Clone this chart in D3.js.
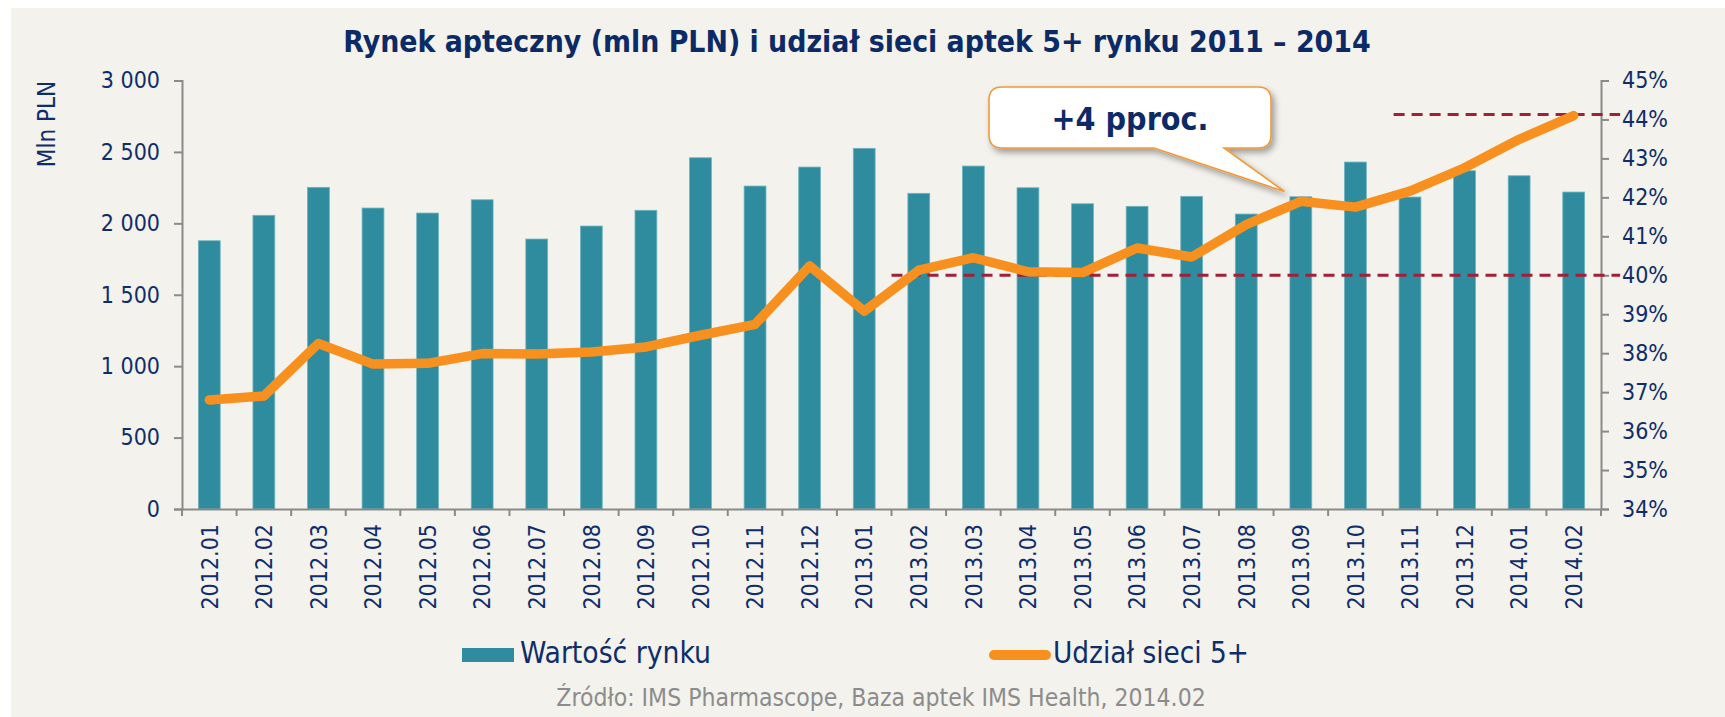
<!DOCTYPE html>
<html lang="pl">
<head>
  <meta charset="UTF-8" />
  <title>Rynek apteczny</title>
  <style>
    html, body { margin: 0; padding: 0; background: #ffffff; }
    svg { display: block; }
    text { font-family: "DejaVu Sans Condensed", "DejaVu Sans", sans-serif; font-stretch: condensed; }
  </style>
</head>
<body>
  <script src="https://d3js.org/d3.v7.min.js"></script>
  <script>
    // --- data ---
    const months = ["2012.01", "2012.02", "2012.03", "2012.04", "2012.05", "2012.06", "2012.07", "2012.08",
      "2012.09", "2012.10", "2012.11", "2012.12", "2013.01", "2013.02", "2013.03", "2013.04", "2013.05",
      "2013.06", "2013.07", "2013.08", "2013.09", "2013.10", "2013.11", "2013.12", "2014.01", "2014.02"];
    const marketValue = [1878, 2056, 2252, 2107, 2072, 2165, 1890, 1981, 2091, 2459, 2261, 2394, 2525,
      2210, 2401, 2249, 2137, 2119, 2189, 2065, 2186, 2429, 2184, 2368, 2333, 2219];
    const chainShare = [36.8, 36.9, 38.25, 37.72, 37.74, 37.99, 37.98, 38.03, 38.16, 38.46, 38.74, 40.24,
      39.08, 40.13, 40.45, 40.09, 40.07, 40.7, 40.47, 41.3, 41.9, 41.75, 42.16, 42.76, 43.49, 44.1];
    const leftTicks = [0, 500, 1000, 1500, 2000, 2500, 3000];
    const rightTicks = [34, 35, 36, 37, 38, 39, 40, 41, 42, 43, 44, 45];
    // reference lines: level in %, start / end in category-index units
    const refLines = [{ v: 40, from: 13, to: 26.35 }, { v: 44.13, from: 22.2, to: 26.35 }];

    const W = 1725, H = 717;
    const navy = "#0f2d6b", teal = "#2e8c9e", orange = "#f7901e", darkRed = "#a21f38";
    const m = { left: 182, right: 1601, top: 80.5, bottom: 509 };

    const svg = d3.select("body").append("svg").attr("width", W).attr("height", H);

    const defs = svg.append("defs");
    const f = defs.append("filter").attr("id", "shadow").attr("x", "-20%").attr("y", "-20%").attr("width", "140%").attr("height", "160%");
    f.append("feDropShadow").attr("dx", 3).attr("dy", 4).attr("stdDeviation", 3)
      .attr("flood-color", "#000").attr("flood-opacity", 0.35);

    svg.append("rect").attr("x", 11).attr("y", 8).attr("width", W - 11).attr("height", H - 8).attr("fill", "#f3f2ec");

    const x = d3.scaleBand().domain(months).range([m.left, m.right]).padding(0);
    const xi = d3.scaleLinear().domain([0, months.length]).range([m.left, m.right]);
    const yL = d3.scaleLinear().domain([0, 3000]).range([m.bottom, m.top]);
    const yR = d3.scaleLinear().domain([34, 45]).range([m.bottom, m.top]);

    const fmt = d => d3.format(",")(d).replace(",", " ");

    function fit(sel, w) {
      const len = sel.node().getComputedTextLength();
      const fs = parseFloat(sel.attr("font-size"));
      sel.attr("font-size", fs * w / len);
    }

    // title
    const title = svg.append("text")
      .attr("x", 857).attr("y", 51.5).attr("text-anchor", "middle")
      .attr("font-size", 26).attr("font-weight", "bold").attr("fill", "#0b2a66")
      .text("Rynek apteczny (mln PLN) i udział sieci aptek 5+ rynku 2011 – 2014");
    fit(title, 1028);

    // bars
    const bw = x.step() * 0.4;
    svg.append("g").selectAll("rect").data(marketValue).join("rect")
      .attr("x", (d, i) => x(months[i]) + (x.step() - bw) / 2)
      .attr("y", d => yL(d))
      .attr("width", bw)
      .attr("height", d => yL(0) - yL(d))
      .attr("fill", teal)
      .attr("stroke", "#6fb3c0").attr("stroke-width", 0.8);

    // axes
    const axisColor = "#8a8a8a";
    const gL = svg.append("g").attr("transform", `translate(${m.left},0)`)
      .call(d3.axisLeft(yL).tickValues(leftTicks).tickFormat(fmt).tickSize(8).tickPadding(14));
    const gR = svg.append("g").attr("transform", `translate(${m.right},0)`)
      .call(d3.axisRight(yR).tickValues(rightTicks).tickFormat(d => d + "%").tickSize(8).tickPadding(13));
    const gX = svg.append("g").attr("transform", `translate(0,${m.bottom})`)
      .call(d3.axisBottom(x).tickSize(0).tickPadding(0));
    gX.selectAll(".tick text")
      .attr("transform", "rotate(-90)")
      .attr("text-anchor", "end")
      .attr("x", -15).attr("y", 0).attr("dy", "0.36em");
    svg.append("g").selectAll("line").data(d3.range(months.length + 1)).join("line")
      .attr("x1", d => xi(d)).attr("x2", d => xi(d))
      .attr("y1", m.bottom).attr("y2", m.bottom + 7)
      .attr("stroke", axisColor).attr("stroke-width", 2);

    [gL, gR, gX].forEach(g => {
      g.select(".domain").attr("stroke", axisColor).attr("stroke-width", 2);
      g.selectAll(".tick line").attr("stroke", axisColor).attr("stroke-width", 2);
      g.selectAll(".tick text").attr("fill", navy).attr("font-size", 23)
        .style("font-family", "'DejaVu Sans Condensed', 'DejaVu Sans', sans-serif");
    });

    svg.append("text")
      .attr("transform", `translate(46,124) rotate(-90)`)
      .attr("text-anchor", "middle").attr("dy", "0.36em")
      .attr("font-size", 24).attr("fill", navy).text("Mln PLN");

    // reference dashed lines
    svg.append("g").selectAll("line").data(refLines).join("line")
      .attr("x1", d => xi(d.from)).attr("x2", d => xi(d.to))
      .attr("y1", d => yR(d.v)).attr("y2", d => yR(d.v))
      .attr("stroke", darkRed).attr("stroke-width", 3).attr("stroke-dasharray", "11,7");

    // share line
    const line = d3.line()
      .x((d, i) => x(months[i]) + x.step() / 2)
      .y(d => yR(d));
    svg.append("path").datum(chainShare)
      .attr("d", line)
      .attr("fill", "none").attr("stroke", orange).attr("stroke-width", 9.5)
      .attr("stroke-linejoin", "round").attr("stroke-linecap", "round");

    // callout
    const tipX = xi(20.2), tipY = yR(42.15);
    const bx0 = 989, bx1 = 1271, by0 = 87, by1 = 148, r = 13;
    const callPath = `M${bx0 + r},${by0} H${bx1 - r} Q${bx1},${by0} ${bx1},${by0 + r} V${by1 - r} Q${bx1},${by1} ${bx1 - r},${by1}`
      + ` H1224 L${tipX},${tipY} L1154,${by1} H${bx0 + r} Q${bx0},${by1} ${bx0},${by1 - r} V${by0 + r} Q${bx0},${by0} ${bx0 + r},${by0} Z`;
    svg.append("path").attr("d", callPath)
      .attr("fill", "#ffffff").attr("stroke", "#f29a3a").attr("stroke-width", 1.6)
      .attr("filter", "url(#shadow)");
    const callText = svg.append("text")
      .attr("x", 1130).attr("y", 130).attr("text-anchor", "middle")
      .attr("font-size", 32).attr("font-weight", "bold").attr("fill", "#0b2a66")
      .text("+4 pproc.");
    fit(callText, 157);

    // legend
    svg.append("rect").attr("x", 462).attr("y", 648).attr("width", 52).attr("height", 14).attr("fill", teal);
    const l1 = svg.append("text").attr("x", 520).attr("y", 663)
      .attr("font-size", 24).attr("fill", navy).text("Wartość rynku");
    fit(l1, 191);
    svg.append("line").attr("x1", 994).attr("x2", 1046).attr("y1", 655).attr("y2", 655)
      .attr("stroke", orange).attr("stroke-width", 10).attr("stroke-linecap", "round");
    const l2 = svg.append("text").attr("x", 1053).attr("y", 663)
      .attr("font-size", 24).attr("fill", navy).text("Udział sieci 5+");
    fit(l2, 196);

    // source
    const src = svg.append("text").attr("x", 881).attr("y", 706).attr("text-anchor", "middle")
      .attr("font-size", 20).attr("fill", "#8c8c8c")
      .text("Źródło: IMS Pharmascope, Baza aptek IMS Health, 2014.02");
    fit(src, 650);
  </script>
</body>
</html>
